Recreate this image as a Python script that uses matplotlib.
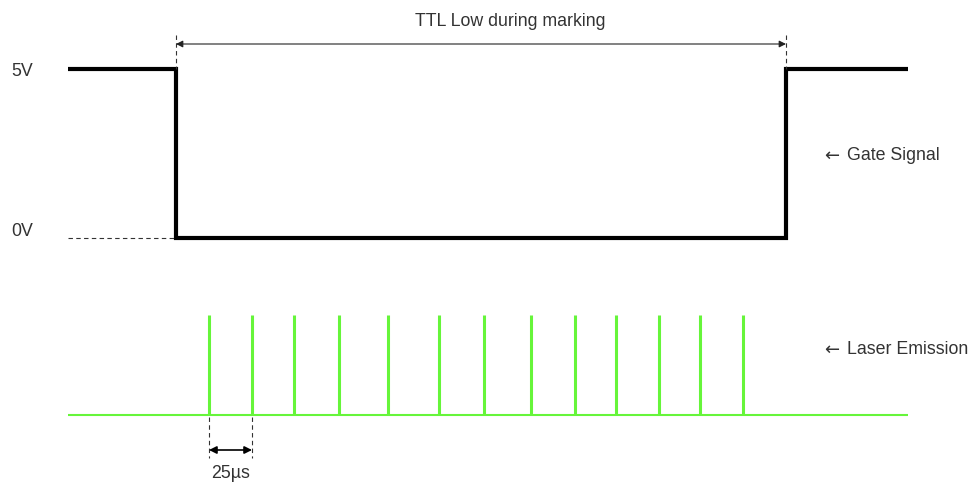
import matplotlib
matplotlib.use("Agg")
import matplotlib.pyplot as plt

plt.rcParams['font.family'] = ['Liberation Sans', 'DejaVu Sans']

# gate signal (pixel space of the diagram, y grows downward)
gate_x = [68, 176, 176, 786, 786, 908]
gate_y = [69, 69, 238, 238, 69, 69]
level_labels = ["5V", "0V"]
level_y = [72, 232]

# laser pulses
pulse_x = [209, 252, 294, 339, 388, 439, 484, 531, 575, 616, 659, 700, 743]
pulse_top = 315
pulse_base = 415
base_x = [68, 908]

# annotations
ttl_text = "TTL Low during marking"
ttl_span = [176, 786]
ttl_y = 44
period_text = "25µs"
period_span = [209, 252]
period_y = 450
side_labels = ["Gate Signal", "Laser Emission"]
side_y = [156, 350]

green = '#66f53a'
txt = '#333333'

fig = plt.figure(figsize=(9.74, 4.83), dpi=100)
ax = fig.add_axes([0, 0, 1, 1])
ax.set_xlim(0, 974)
ax.set_ylim(483, 0)
ax.axis('off')

# gate
ax.plot(gate_x, gate_y, color='black', lw=3.0, solid_joinstyle='miter', solid_capstyle='butt')
ax.plot([gate_x[0], gate_x[1]], [gate_y[2], gate_y[2]], color=txt, lw=0.8, ls=(0, (4, 3)))
for x in ttl_span:
    ax.plot([x, x], [ttl_y - 9, gate_y[0]], color=txt, lw=0.8, ls=(0, (4, 3)))
ax.annotate('', xy=(ttl_span[1], ttl_y), xytext=(ttl_span[0], ttl_y),
            arrowprops=dict(arrowstyle='<|-|>', color='#222222', lw=0.8,
                            mutation_scale=10, shrinkA=0, shrinkB=0))
ax.text(510, 21, ttl_text, ha='center', va='center', fontsize=12.8, color=txt)

for lab, y in zip(level_labels, level_y):
    ax.text(11, y, lab, ha='left', va='center', fontsize=12.8, color=txt)

# laser
ax.plot(base_x, [pulse_base, pulse_base], color=green, lw=1.5, solid_capstyle='butt')
ax.vlines(pulse_x, pulse_top, pulse_base, color=green, lw=2.2)

for x in period_span:
    ax.plot([x, x], [pulse_base + 2, period_y + 8], color=txt, lw=0.8, ls=(0, (4, 3)))
ax.annotate('', xy=(period_span[1], period_y), xytext=(period_span[0], period_y),
            arrowprops=dict(arrowstyle='<|-|>', color='black', lw=1.2,
                            mutation_scale=11, shrinkA=0, shrinkB=0))
ax.text(sum(period_span) / 2, 473, period_text, ha='center', va='center', fontsize=12.8, color=txt)

for lab, y in zip(side_labels, side_y):
    ax.text(824, y, "←", ha='left', va='center', fontsize=13, color=txt, family='DejaVu Sans')
    ax.text(847, y, lab, ha='left', va='center', fontsize=12.8, color=txt)

fig.savefig('out.png', dpi=100)
